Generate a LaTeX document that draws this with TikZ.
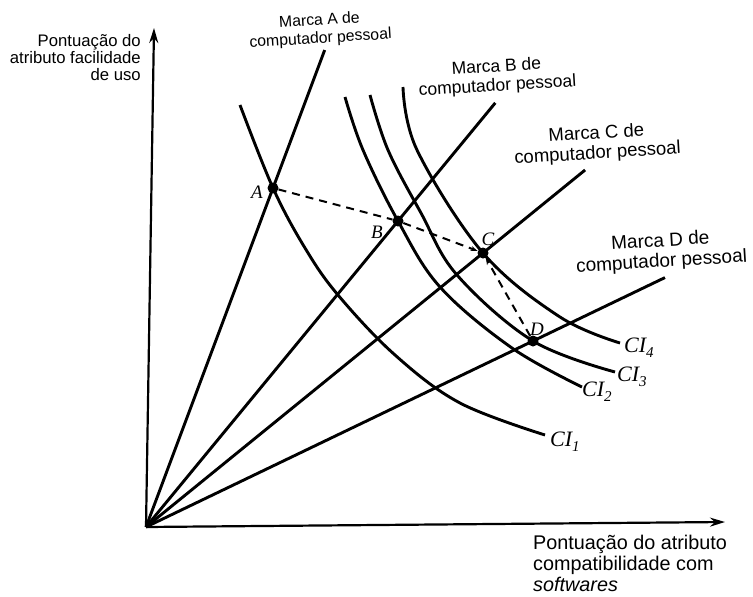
\documentclass[tikz,border=0pt]{standalone}
\usepackage{fontspec}
\setmainfont{Liberation Sans}
\newfontfamily\tms{Liberation Serif}
\usetikzlibrary{arrows.meta,calc}
\begin{document}
\begin{tikzpicture}[x=1pt,y=-1pt,
  axis/.style={line width=2.2pt,-{Stealth[length=15pt,width=9pt]}},
  ray/.style={line width=2.9pt},
  curve/.style={line width=2.9pt},
  guide/.style={line width=2pt,dash pattern=on 8pt off 6pt},
  guidetip/.style={guide,-{Stealth[length=7pt,width=5pt]}},
  dot/.style={circle,fill=black,inner sep=0pt,minimum size=11pt},
  ptlabel/.style={font=\fontsize{19}{19}\selectfont\tms\itshape,inner sep=0pt},
  cilabel/.style={font=\fontsize{22}{22}\selectfont\tms\itshape,inner sep=0pt,anchor=west},
  brand/.style={align=center,rotate=3.5,inner sep=0pt},
]
\useasboundingbox (0,0) rectangle (753,597);
\newcommand{\cisub}[1]{CI\raisebox{-5pt}{\fontsize{15}{15}\selectfont #1}}

% axes
\coordinate (O) at (146,527);
\coordinate (Ytip) at (154,28);
\coordinate (Xtip) at (725,522);
\draw[axis] (O) -- (Ytip);
\draw[axis] (O) -- (Xtip);

% points
\node[dot] (A) at (273,188) {};
\node[dot] (B) at (398,221) {};
\node[dot] (C) at (483,253) {};
\node[dot] (D) at (533,341) {};

% rays
\coordinate (EA) at ($(O)!1.407!(A.center)$);
\coordinate (EB) at ($(O)!1.386!(B.center)$);
\coordinate (EC) at ($(O)!1.303!(C.center)$);
\coordinate (ED) at ($(O)!1.341!(D.center)$);
\draw[ray] (O) -- (EA);
\draw[ray] (O) -- (EB);
\draw[ray] (O) -- (EC);
\draw[ray] (O) -- (ED);

% indifference curves
\draw[curve] plot[smooth,tension=0.6] coordinates {(240,105) (A.center) (305,248) (338,295) (395,355) (460,403) (545,435)};
\draw[curve] plot[smooth,tension=0.6] coordinates {(345,97) (363,150) (B.center) (440,287) (512,348) (582,387)};
\draw[curve] plot[smooth,tension=0.6] coordinates {(370,95) (388,150) (421,213) (457,275) (D.center) (615,372)};
\draw[curve] plot[smooth,tension=0.6] coordinates {(403,87) (417,150) (C.center) (560,317) (620,343)};

% dashed path
\draw[guide] (A) -- (B);
\draw[guidetip] (B) -- (C);
\draw[guidetip] (D) -- (C);

% point labels
\node[ptlabel] (lA) at (257,192) {A};
\node[ptlabel] (lB) at (377,232) {B};
\node[ptlabel] (lC) at (488,239) {C};
\node[ptlabel] (lD) at (537,329) {D};

% curve labels
\node[cilabel] (l1) at (550,442) {\cisub{1}};
\node[cilabel] (l2) at (582,392) {\cisub{2}};
\node[cilabel] (l3) at (617,377) {\cisub{3}};
\node[cilabel] (l4) at (624,348) {\cisub{4}};

% brand labels
\node[brand,font=\fontsize{15.8}{18}\selectfont] (bA) at (320,30) {Marca A de\\computador pessoal};
\node[brand,font=\fontsize{17.5}{19}\selectfont] (bB) at (497,77) {Marca B de\\computador pessoal};
\node[brand,font=\fontsize{18.5}{20}\selectfont] (bC) at (597,144) {Marca C de\\computador pessoal};
\node[brand,font=\fontsize{19}{20.5}\selectfont] (bD) at (661,252) {Marca D de\\computador pessoal};

% axis labels
\node[align=right,anchor=north east,inner sep=0pt,font=\fontsize{16.7}{17}\selectfont] (ylab) at (141,34)
  {Pontuação do\\atributo facilidade\\de uso};
\node[align=left,anchor=north west,inner sep=0pt,font=\fontsize{19.8}{21}\selectfont] (xlab) at (533,535)
  {Pontuação do atributo\\compatibilidade com\\\textit{softwares}};
\end{tikzpicture}
\end{document}
